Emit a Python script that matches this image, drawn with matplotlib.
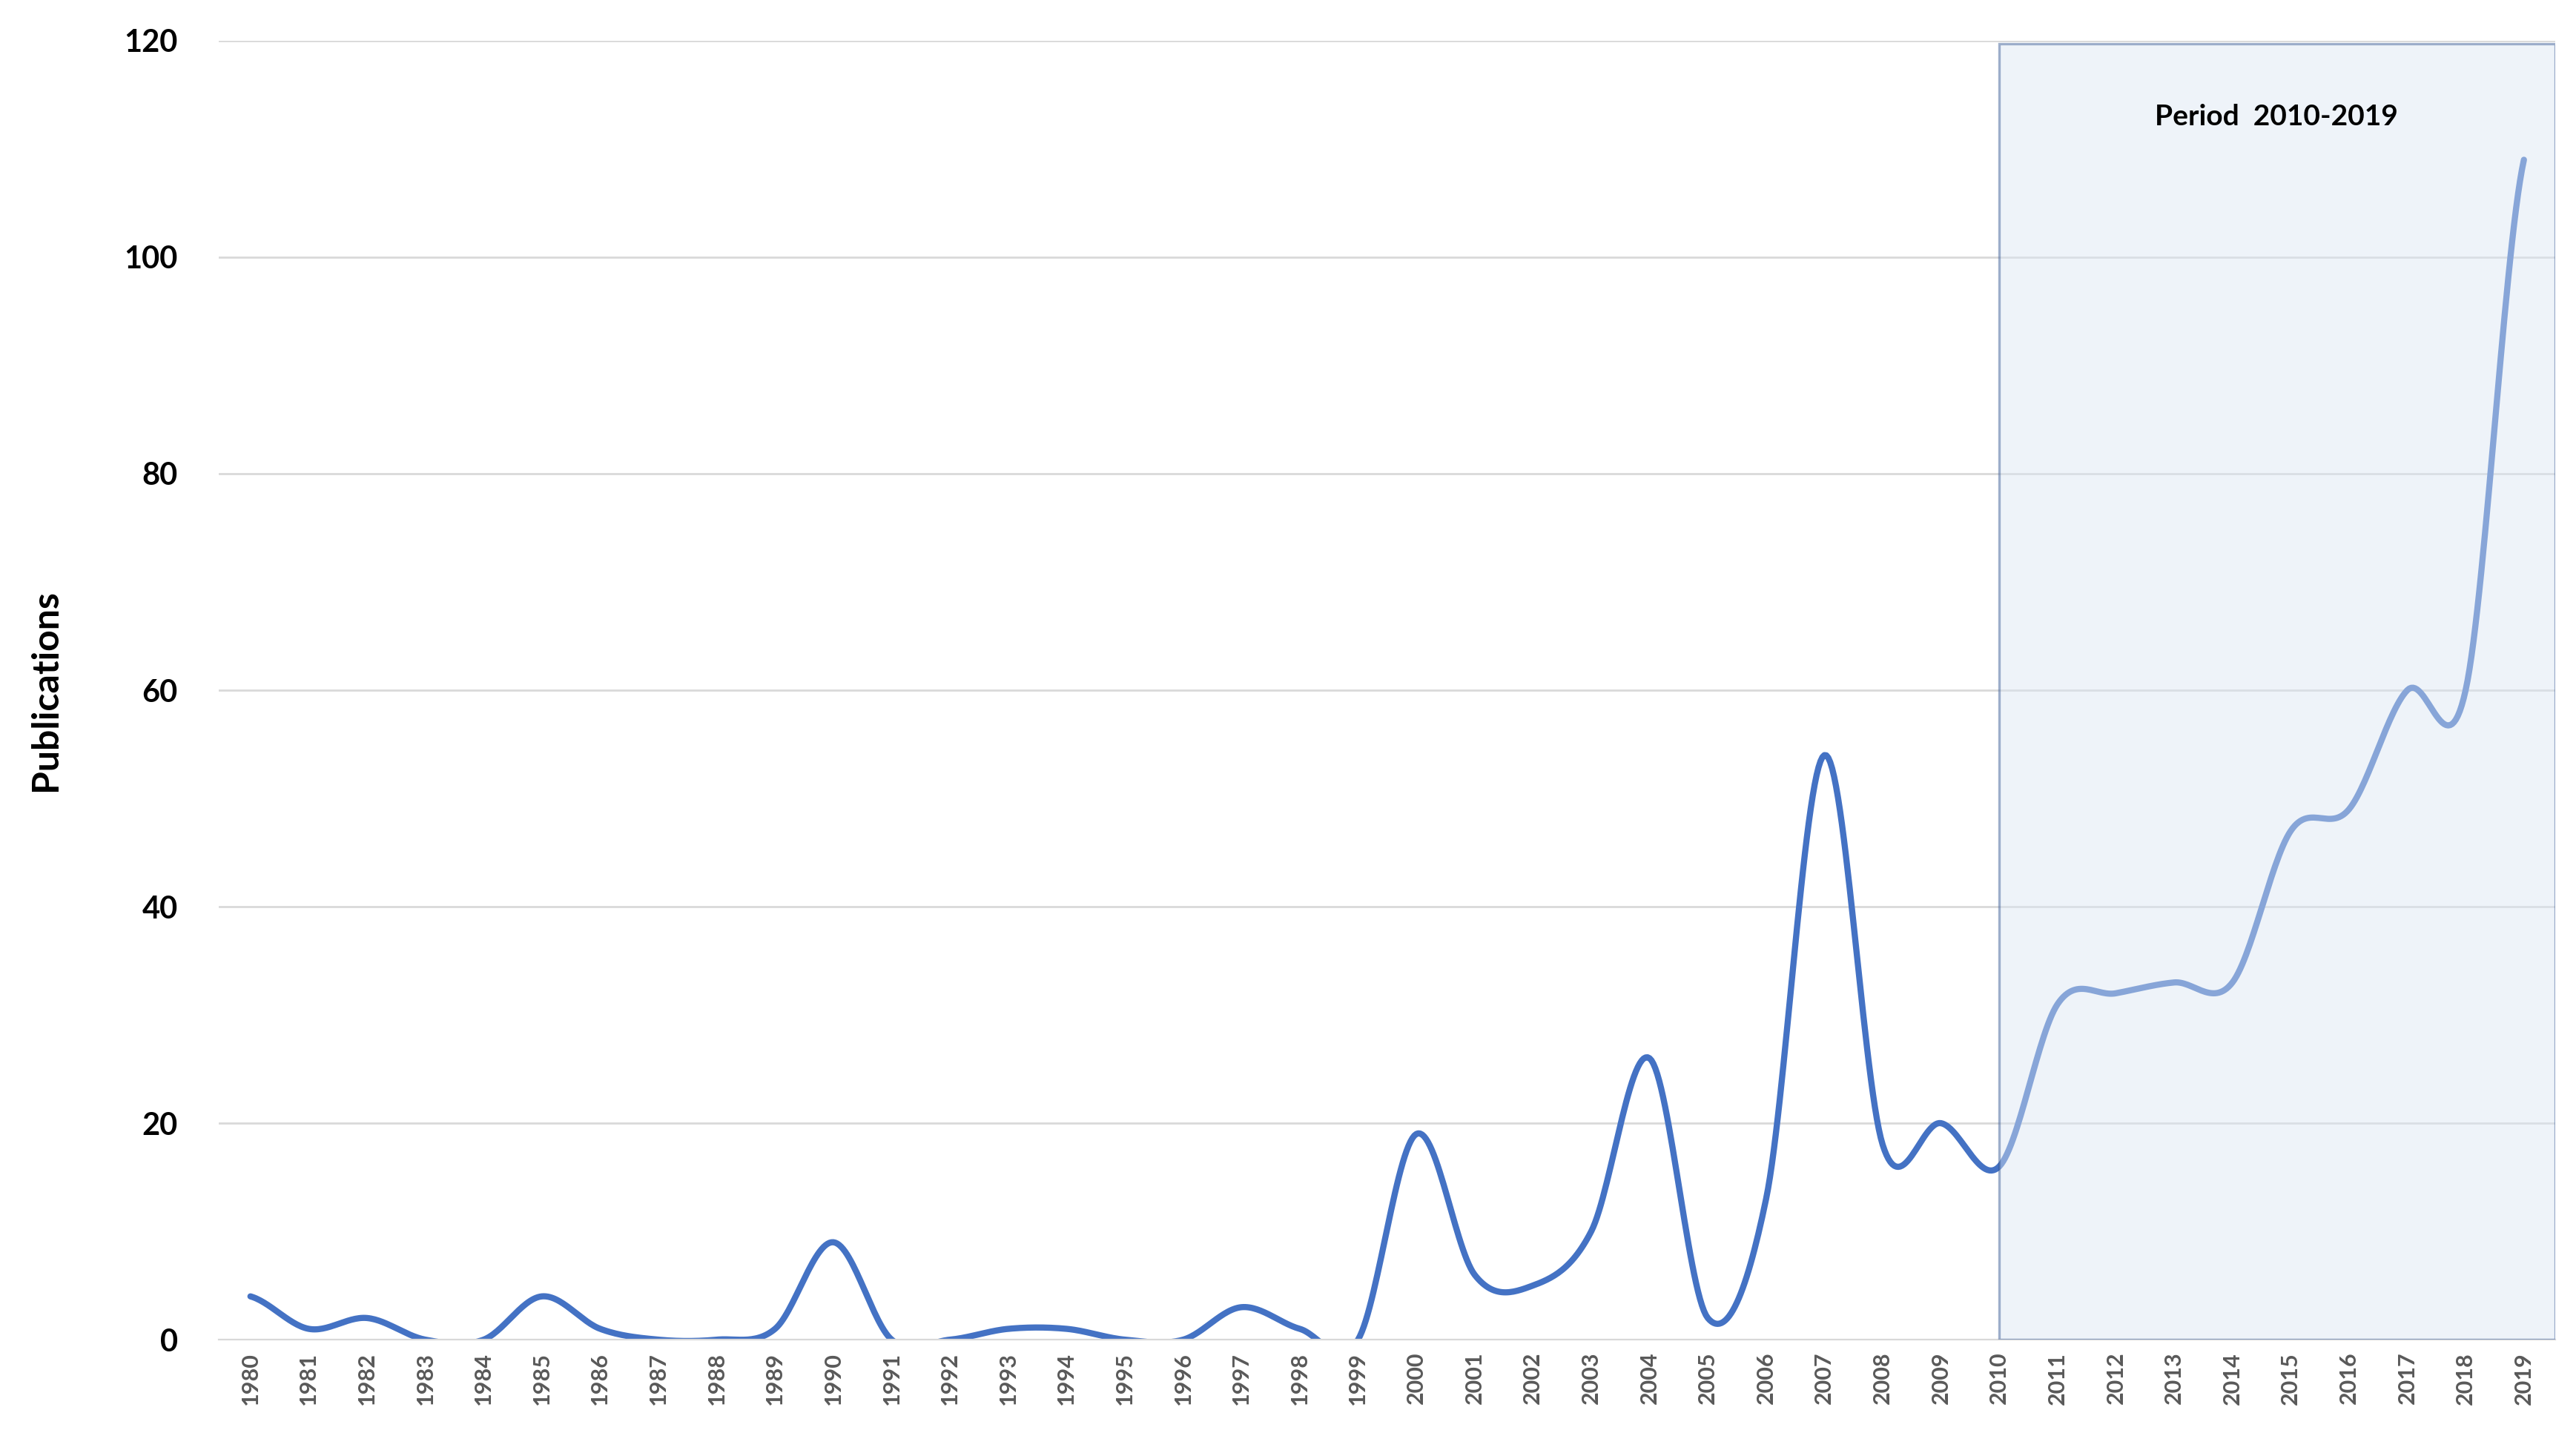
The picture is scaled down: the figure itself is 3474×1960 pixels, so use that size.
import numpy as np
import matplotlib
matplotlib.use("Agg")
import matplotlib.pyplot as plt
from matplotlib.patches import Rectangle

plt.rcParams['font.family'] = ['Lato', 'DejaVu Sans']

years = list(range(1980, 2020))
publications = [4, 1, 2, 0, 0, 4, 1, 0, 0, 1, 9, 0, 0, 1, 1, 0, 0, 3, 1, 0,
                19, 6, 5, 10, 26, 2, 13, 54, 18, 20, 16, 31, 32, 33, 33, 47, 49, 60, 60, 109]
period_label = "Period  2010-2019"


def smooth(x, y, n=30):
    # Catmull-Rom curve through the points, like a spreadsheet "smoothed line"
    x = np.asarray(x, float)
    y = np.asarray(y, float)
    px = np.concatenate([[2 * x[0] - x[1]], x, [2 * x[-1] - x[-2]]])
    py = np.concatenate([[y[0]], y, [y[-1]]])
    xs, ys = [], []
    t = np.linspace(0, 1, n, endpoint=False)
    for i in range(1, len(px) - 2):
        for arr, out in ((px, xs), (py, ys)):
            p0, p1, p2, p3 = arr[i - 1:i + 3]
            out.extend(0.5 * ((2 * p1) + (-p0 + p2) * t + (2 * p0 - 5 * p1 + 4 * p2 - p3) * t ** 2
                              + (-p0 + 3 * p1 - 3 * p2 + p3) * t ** 3))
    xs.append(x[-1])
    ys.append(y[-1])
    return np.array(xs), np.array(ys)


fig = plt.figure(figsize=(17.37, 9.8), dpi=200)
ax = fig.add_axes([0.085, 0.078, 0.907, 0.894])

sx, sy = smooth(years, publications)
ax.plot(sx, sy, color="#4472C4", lw=3, solid_capstyle="round", zorder=2)

ax.add_patch(Rectangle((2010, 0), 9.54, 119.7, facecolor="#DAE5F2", alpha=0.45,
                       edgecolor="#2F528F", lw=1.2, zorder=3))
ax.text(2014.75, 113, period_label, ha="center", va="center", fontsize=14,
        fontweight="bold", zorder=4)

ax.set_xlim(1979.46, 2019.54)
ax.set_ylim(0, 120)
ax.set_yticks(range(0, 121, 20))
ax.set_xticks(years)
ax.set_xticklabels([str(y) for y in years], rotation=90, fontsize=11,
                   fontweight="bold", color="#595959")
ax.tick_params(axis="y", labelsize=15, length=0, pad=20)
ax.tick_params(axis="x", length=0, pad=6)
for lbl in ax.get_yticklabels():
    lbl.set_fontweight("bold")
ax.grid(axis="y", color="#D9D9D9", lw=1)
ax.set_axisbelow(True)
for s in ["top", "right", "left"]:
    ax.spines[s].set_visible(False)
ax.spines["bottom"].set_color("#D9D9D9")
ax.set_ylabel("Publications", fontsize=18, fontweight="bold", labelpad=30)

fig.savefig("out.png", dpi=200)
